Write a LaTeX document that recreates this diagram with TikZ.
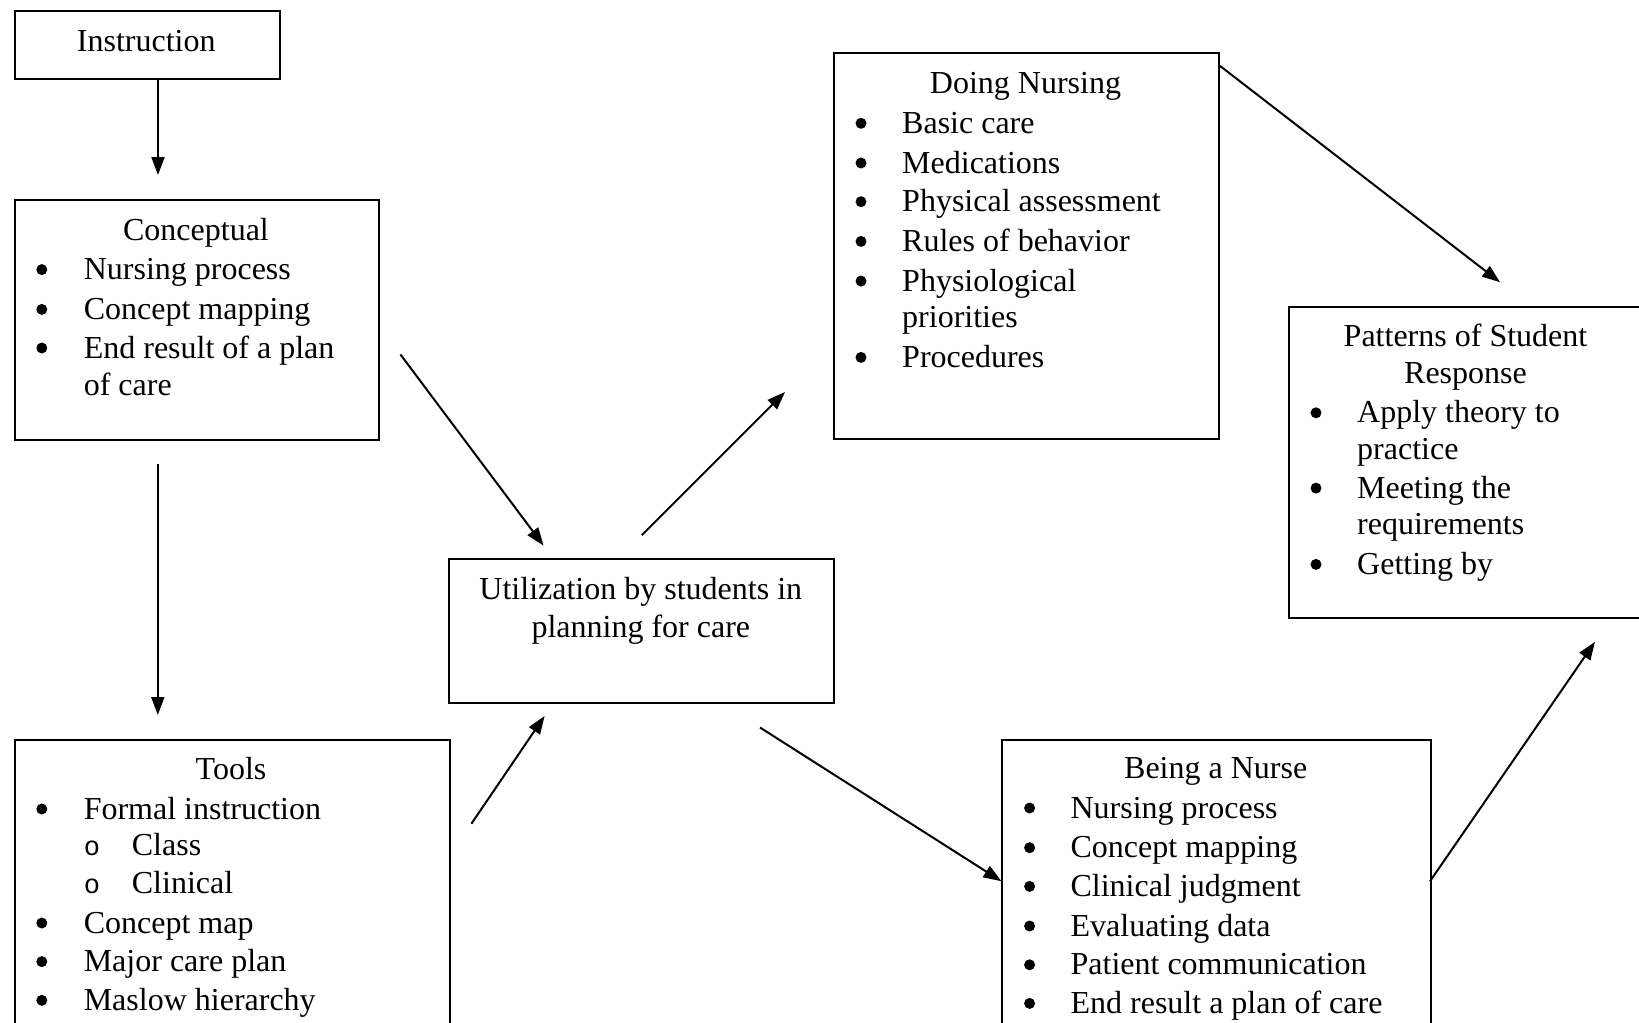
\documentclass[tikz,border=0pt]{standalone}
\usepackage{fontspec}
\setmainfont{Liberation Serif}
\newfontfamily\subbulfont{Liberation Mono}
\usetikzlibrary{arrows.meta}
\begin{document}
\begin{tikzpicture}[x=1pt,y=-1pt,
  box/.style={draw,line width=2pt,inner sep=0pt,anchor=north west},
  txt/.style={anchor=base west,inner sep=0pt,font=\fontsize{32}{39}\selectfont},
  ctxt/.style={anchor=base,inner sep=0pt,font=\fontsize{32}{39}\selectfont},
  bul/.style={circle,fill,inner sep=0pt,minimum size=11pt,yshift=10pt},
  sbul/.style={anchor=base,inner sep=0pt,font=\subbulfont\fontsize{27}{39}\selectfont},
  arr/.style={line width=2pt,-{Triangle[length=18pt,width=13pt]}}]
\clip (0,0) rectangle (1639,1023);
% boxes
\node[box,minimum width=265.3pt,minimum height=68.3pt] (instr) at (13.7,9.7) {};
\node[box,minimum width=364.4pt,minimum height=240.4pt] (concept) at (13.6,198.6) {};
\node[box,minimum width=385pt,minimum height=386pt] (doing) at (833,52) {};
\node[box,minimum width=400pt,minimum height=311pt] (patterns) at (1288,306) {};
\node[box,minimum width=384.6pt,minimum height=144.2pt] (util) at (448.4,558.2) {};
\node[box,minimum width=435.4pt,minimum height=320pt] (tools) at (13.6,739) {};
\node[box,minimum width=428.6pt,minimum height=320pt] (being) at (1001.4,739) {};
% Instruction
\node[ctxt] (tInstr) at (146.3,51.8) {Instruction};
% Conceptual
\node[ctxt] (tConc) at (196,240) {Conceptual};
\node[bul] (bc1) at (41.8,279.6) {};
\node[txt] (c1) at (83.6,279.6) {Nursing process};
\node[bul] (bc2) at (41.8,319.4) {};
\node[txt] (c2) at (83.6,319.4) {Concept mapping};
\node[bul] (bc3) at (41.8,358) {};
\node[txt] (c3) at (83.6,358) {End result of a plan};
\node[txt] (c3b) at (83.6,395.7) {of care};
% Doing Nursing
\node[ctxt] (tDoing) at (1025.5,93.6) {Doing Nursing};
\node[bul] (bd1) at (861,133.3) {};
\node[txt] (d1) at (902,133.3) {Basic care};
\node[bul] (bd2) at (861,173) {};
\node[txt] (d2) at (902,173) {Medications};
\node[bul] (bd3) at (861,211.7) {};
\node[txt] (d3) at (902,211.7) {Physical assessment};
\node[bul] (bd4) at (861,251.4) {};
\node[txt] (d4) at (902,251.4) {Rules of behavior};
\node[bul] (bd5) at (861,291.1) {};
\node[txt] (d5) at (902,291.1) {Physiological};
\node[txt] (d5b) at (902,327.7) {priorities};
\node[bul] (bd6) at (861,367.4) {};
\node[txt] (d6) at (902,367.4) {Procedures};
% Patterns
\node[ctxt] (tPat1) at (1465.5,346.5) {Patterns of Student};
\node[ctxt] (tPat2) at (1465.5,383) {Response};
\node[bul] (bp1) at (1316,422.8) {};
\node[txt] (p1) at (1357,422.8) {Apply theory to};
\node[txt] (p1b) at (1357,459.4) {practice};
\node[bul] (bp2) at (1316,498.1) {};
\node[txt] (p2) at (1357,498.1) {Meeting the};
\node[txt] (p2b) at (1357,534.7) {requirements};
\node[bul] (bp3) at (1316,574.4) {};
\node[txt] (p3) at (1357,574.4) {Getting by};
% Utilization
\node[ctxt] (tUtil1) at (640.8,599.5) {Utilization by students in};
\node[ctxt] (tUtil2) at (640.8,637) {planning for care};
% Tools
\node[ctxt] (tTools) at (231,779) {Tools};
\node[bul] (bt1) at (41.8,819) {};
\node[txt] (t1) at (83.6,819) {Formal instruction};
\node[sbul] (bt1a) at (92,855.6) {o};
\node[txt] (t1a) at (131.7,855.6) {Class};
\node[sbul] (bt1b) at (92,893.2) {o};
\node[txt] (t1b) at (131.7,893.2) {Clinical};
\node[bul] (bt2) at (41.8,933) {};
\node[txt] (t2) at (83.6,933) {Concept map};
\node[bul] (bt3) at (41.8,971.6) {};
\node[txt] (t3) at (83.6,971.6) {Major care plan};
\node[bul] (bt4) at (41.8,1010.3) {};
\node[txt] (t4) at (83.6,1010.3) {Maslow hierarchy};
% Being a Nurse
\node[ctxt] (tBeing) at (1215.7,778.3) {Being a Nurse};
\node[bul] (bb1) at (1029.6,818) {};
\node[txt] (n1) at (1070.4,818) {Nursing process};
\node[bul] (bb2) at (1029.6,857.7) {};
\node[txt] (n2) at (1070.4,857.7) {Concept mapping};
\node[bul] (bb3) at (1029.6,896.4) {};
\node[txt] (n3) at (1070.4,896.4) {Clinical judgment};
\node[bul] (bb4) at (1029.6,936) {};
\node[txt] (n4) at (1070.4,936) {Evaluating data};
\node[bul] (bb5) at (1029.6,974.8) {};
\node[txt] (n5) at (1070.4,974.8) {Patient communication};
\node[bul] (bb6) at (1029.6,1013.4) {};
\node[txt] (n6) at (1070.4,1013.4) {End result a plan of care};
% connector end points
\coordinate (a1s) at (158,78.4);   \coordinate (a1e) at (158,175);
\coordinate (a2s) at (157.8,464);  \coordinate (a2e) at (157.8,715);
\coordinate (a3s) at (400.4,354.4);\coordinate (a3e) at (543.6,545.6);
\coordinate (a4s) at (471.4,823.7);\coordinate (a4e) at (544.6,716);
\coordinate (a5s) at (641.8,535.2);\coordinate (a5e) at (785,392);
\coordinate (a6s) at (1220,65.9);  \coordinate (a6e) at (1500,282.2);
\coordinate (a7s) at (760,727.5);  \coordinate (a7e) at (1001.4,881.2);
\coordinate (a8s) at (1430,881.2); \coordinate (a8e) at (1595,641.8);
\draw[arr] (a1s) -- (a1e);
\draw[arr] (a2s) -- (a2e);
\draw[arr] (a3s) -- (a3e);
\draw[arr] (a4s) -- (a4e);
\draw[arr] (a5s) -- (a5e);
\draw[arr] (a6s) -- (a6e);
\draw[arr] (a7s) -- (a7e);
\draw[arr] (a8s) -- (a8e);
\end{tikzpicture}
\end{document}
